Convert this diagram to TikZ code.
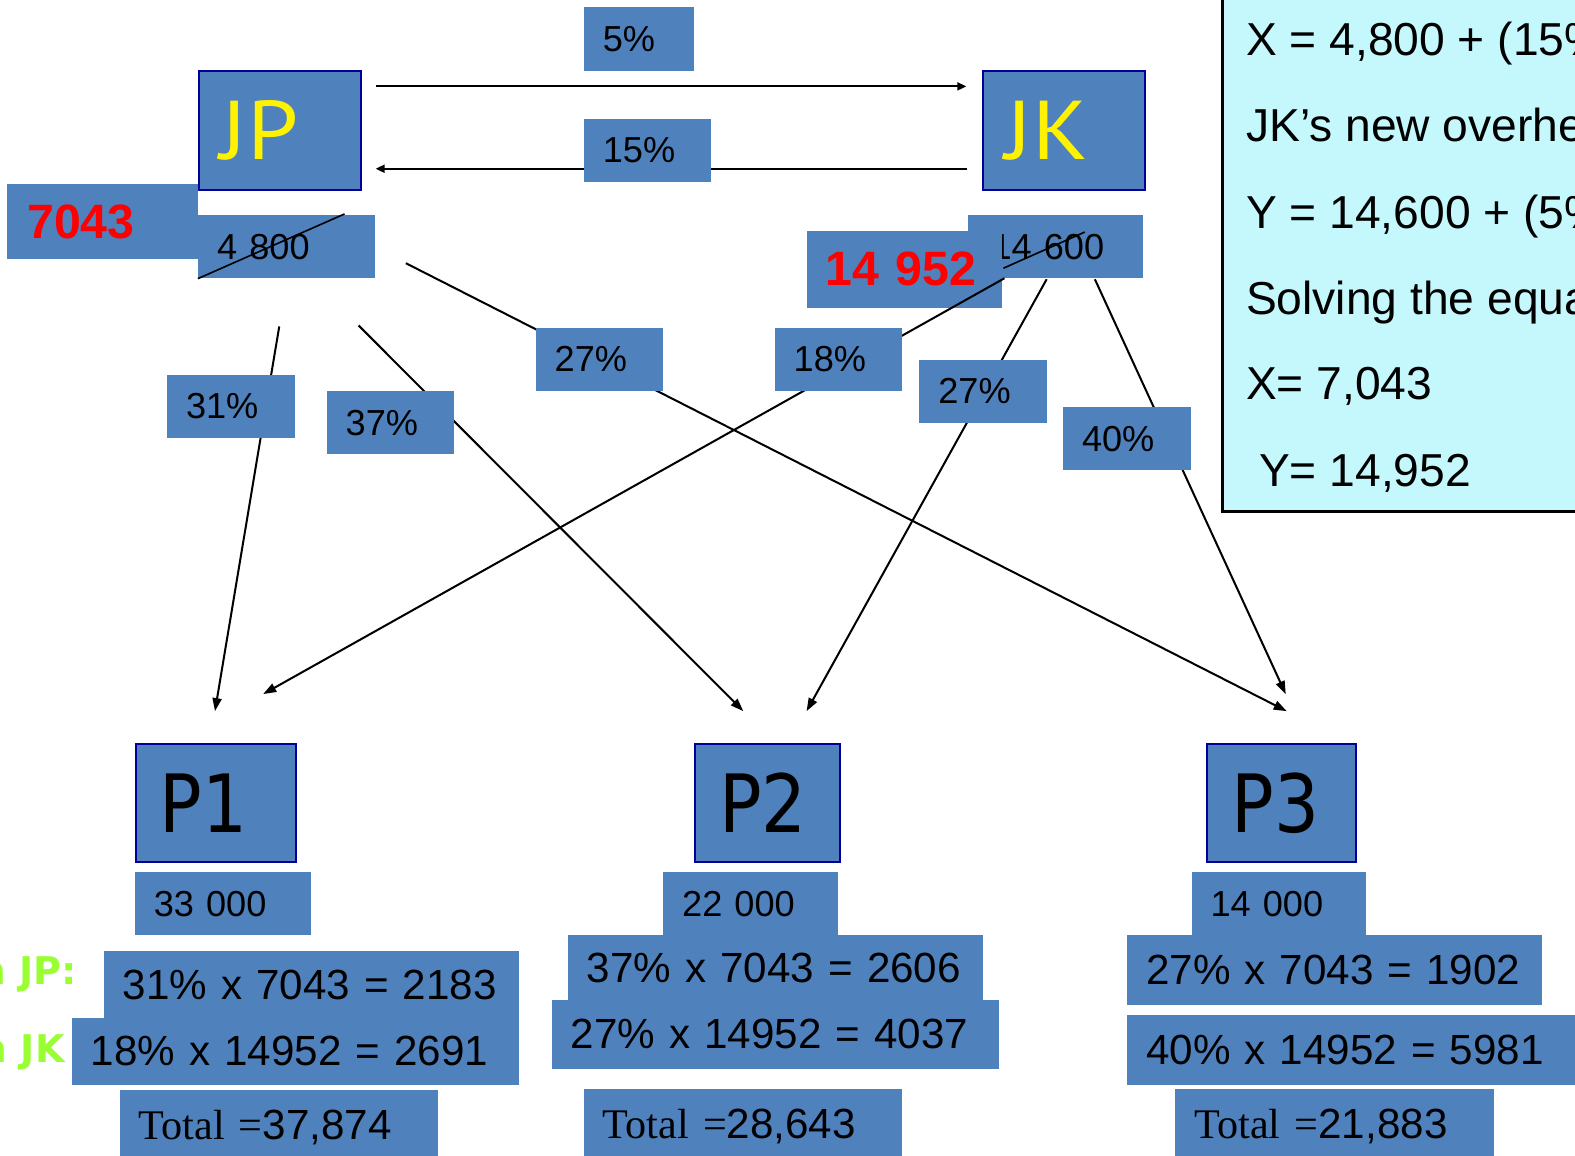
\documentclass[tikz,border=0pt]{standalone}
\usepackage{fontspec}
\setmainfont{Liberation Sans}
\newfontfamily\timesfont{Liberation Serif}
\newfontfamily\deptfont[FakeStretch=1.1]{PT Sans}
\newfontfamily\prodfont[FakeStretch=0.88]{DejaVu Sans}
\newfontfamily\notefont{DejaVu Sans}
\usetikzlibrary{arrows.meta}

\definecolor{cellblue}{RGB}{79,129,189}
\definecolor{edgeblue}{RGB}{0,0,150}
\definecolor{notecyan}{RGB}{196,248,252}
\definecolor{notegreen}{RGB}{153,255,51}

\begin{document}
\begin{tikzpicture}[x=1pt,y=-1pt,
  cell/.style 2 args={fill=cellblue, anchor=north west, inner xsep=19pt, inner ysep=0pt,
    text width=#1, minimum height=#2, align=left, font=\fontsize{36}{40}\selectfont},
  pct/.style={cell={89pt}{63pt}},
  dept/.style={cell={117pt}{118pt}, draw=edgeblue, line width=2pt, inner xsep=22pt,
    text=yellow, font=\deptfont\fontsize{83}{83}\selectfont},
  prod/.style={cell={#1}{117pt}, draw=edgeblue, line width=2pt, inner xsep=24pt,
    font=\prodfont\fontsize{80}{80}\selectfont},
  share/.style 2 args={cell={#1}{#2}, font=\fontsize{42}{46}\selectfont},
  redval/.style={text=red, font=\bfseries\fontsize{48}{50}\selectfont},
  link/.style={line width=2pt, -{Triangle[length=13pt,width=9pt]}},
  flow/.style={line width=2pt, -{Triangle[length=9pt,width=8pt]}},
  strike/.style={line width=1.6pt},
  note/.style={anchor=base west, font=\fontsize{46}{50}\selectfont},
  source/.style={anchor=base east, text=notegreen, font=\notefont\bfseries\fontsize{38}{40}\selectfont}]
  \useasboundingbox (0,0) rectangle (1568,1150);
  \clip (0,0) rectangle (1568,1150);

  % equations
  \draw[fill=notecyan, line width=2.5pt] (1217,-10) rectangle (1590,509);
  \node[note] (eqx) at (1237,55) {X = 4,800 + (15\% Y)};
  \node[note] (eqtxt) at (1237,141) {JK’s new overhead};
  \node[note] (eqy) at (1237,227) {Y = 14,600 + (5\% X)};
  \node[note] (solve) at (1237,313) {Solving the equations};
  \node[note] (solx) at (1237,398) {X= 7,043};
  \node[note] (soly) at (1250,484) {Y= 14,952};

  % service departments
  \node[dept] (jp) at (197,70) {JP};
  \node[dept] (jk) at (978,70) {JK};

  % overheads before / after
  \node[cell={150pt}{75pt}, inner xsep=20pt, redval] (newjp) at (7,183) {7043};
  \node[cell={138pt}{63pt}] (oldjp) at (197,214) {4 800};
  \node[cell={127pt}{63pt}, inner xsep=24pt] (oldjk) at (963,214) {14 600};
  \node[cell={156pt}{76pt}, redval] (newjk) at (803,230) {14 952};
  \draw[strike] (oldjp.south west) -- (343,213);
  \draw[strike] (999,267) -- (1080,231);

  % reciprocal flows
  \draw[flow] ([shift={(14pt,-16pt)}]jp.north east) -- ([shift={(-16pt,-16pt)}]jk.north west);
  \draw[flow] ([shift={(-15pt,22pt)}]jk.south west) -- ([shift={(14pt,22pt)}]jp.south east);
  \node[cell={72pt}{63pt}] (r5) at (581,7) {5\%};
  \node[pct] (r15) at (581,118) {15\%};

  % flows to production
  \coordinate (s31) at (278,325);  \coordinate (e31) at (214,708);
  \coordinate (s37) at (357,324);  \coordinate (e37) at (740,708);
  \coordinate (s27a) at (404,262); \coordinate (e27a) at (1281,708);
  \coordinate (s18) at (1000,277); \coordinate (e18) at (262,691);
  \coordinate (s27b) at (1042,278); \coordinate (e27b) at (803,708);
  \coordinate (s40) at (1090,278); \coordinate (e40) at (1280,691);
  \draw[link] (s31) -- (e31);
  \draw[link] (s37) -- (e37);
  \draw[link] (s27a) -- (e27a);
  \draw[link] (s18) -- (e18);
  \draw[link] (s27b) -- (e27b);
  \draw[link] (s40) -- (e40);
  \node[pct] (r31) at (166,373) {31\%};
  \node[pct] (r37) at (325,389) {37\%};
  \node[pct] (r27a) at (533,326) {27\%};
  \node[pct] (r18) at (771,326) {18\%};
  \node[pct] (r27b) at (915,358) {27\%};
  \node[pct] (r40) at (1058,405) {40\%};

  % production departments
  \node[prod={112pt}] (p1) at (134,740) {P1};
  \node[prod={96pt}] (p2) at (691,740) {P2};
  \node[prod={100pt}] (p3) at (1201,740) {P3};
  \node[cell={137pt}{63pt}] (b1) at (134,868) {33 000};
  \node[cell={136pt}{63pt}] (b2) at (660,868) {22 000};
  \node[cell={136pt}{63pt}] (b3) at (1186,868) {14 000};

  \node[source] (fromjp) at (80,980) {From JP:};
  \node[source] (fromjk) at (68,1058) {From JK};

  \node[share={375pt}{66pt}] (jp1) at (103,947) {31\% x 7043 = 2183};
  \node[share={407pt}{67pt}] (jk1) at (71,1013) {18\% x 14952 = 2691};
  \node[share={279pt}{75pt}] (t1) at (119,1085) {{\timesfont Total =}37,874};
  \node[share={375pt}{64pt}] (jp2) at (565,931) {37\% x 7043 = 2606};
  \node[share={407pt}{69pt}] (jk2) at (549,995) {27\% x 14952 = 4037};
  \node[share={279pt}{75pt}] (t2) at (581,1084) {{\timesfont Total =}28,643};
  \node[share={375pt}{69pt}] (jp3) at (1122,931) {27\% x 7043 = 1902};
  \node[share={430pt}{70pt}] (jk3) at (1122,1010) {40\% x 14952 = 5981};
  \node[share={279pt}{75pt}] (t3) at (1170,1084) {{\timesfont Total =}21,883};
\end{tikzpicture}
\end{document}
